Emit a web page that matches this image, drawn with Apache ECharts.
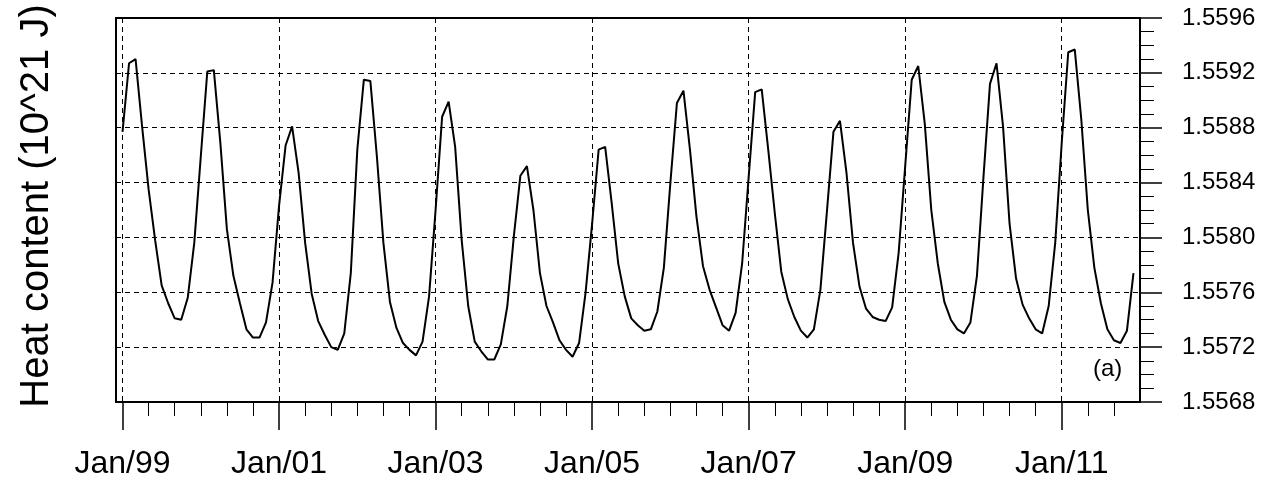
<!DOCTYPE html>
<html>
<head>
<meta charset="utf-8">
<script src="https://cdn.jsdelivr.net/npm/echarts@6/dist/echarts.min.js"></script>
<style>
  html, body { margin: 0; padding: 0; background: #fff; }
  #chart { width: 1276px; height: 482px; }
</style>
</head>
<body>
<div id="chart"></div>
<script>
// monthly heat content, Jan 1999 .. Dec 2011 (10^21 J)
const heat = [
  1.55877, 1.55927, 1.55930, 1.55881, 1.55835, 1.55798, 1.55765, 1.55752, 1.55741, 1.55740, 1.55756, 1.55796, // 1999
  1.55859, 1.55921, 1.55922, 1.55869, 1.55806, 1.55772, 1.55752, 1.55733, 1.55727, 1.55727, 1.55738, 1.55767, // 2000
  1.55823, 1.55867, 1.55881, 1.55847, 1.55796, 1.55759, 1.55739, 1.55729, 1.55720, 1.55718, 1.55730, 1.55774, // 2001
  1.55864, 1.55915, 1.55914, 1.55859, 1.55796, 1.55753, 1.55734, 1.55723, 1.55718, 1.55714, 1.55724, 1.55757, // 2002
  1.55820, 1.55888, 1.55899, 1.55866, 1.55798, 1.55750, 1.55724, 1.55717, 1.55711, 1.55711, 1.55722, 1.55750, // 2003
  1.55801, 1.55845, 1.55852, 1.55820, 1.55774, 1.55750, 1.55738, 1.55725, 1.55718, 1.55713, 1.55723, 1.55760, // 2004
  1.55810, 1.55864, 1.55866, 1.55825, 1.55781, 1.55757, 1.55741, 1.55736, 1.55732, 1.55733, 1.55746, 1.55778, // 2005
  1.55840, 1.55898, 1.55907, 1.55864, 1.55815, 1.55779, 1.55762, 1.55749, 1.55736, 1.55732, 1.55745, 1.55781, // 2006
  1.55844, 1.55906, 1.55908, 1.55864, 1.55818, 1.55775, 1.55755, 1.55742, 1.55732, 1.55727, 1.55733, 1.55762, // 2007
  1.55819, 1.55877, 1.55885, 1.55847, 1.55796, 1.55764, 1.55748, 1.55742, 1.55740, 1.55739, 1.55749, 1.55789, // 2008
  1.55852, 1.55915, 1.55925, 1.55883, 1.55820, 1.55781, 1.55753, 1.55740, 1.55733, 1.55730, 1.55738, 1.55772, // 2009
  1.55844, 1.55912, 1.55927, 1.55881, 1.55810, 1.55770, 1.55751, 1.55741, 1.55733, 1.55730, 1.55750, 1.55796, // 2010
  1.55869, 1.55935, 1.55937, 1.55886, 1.55820, 1.55778, 1.55752, 1.55733, 1.55725, 1.55723, 1.55732, 1.55774  // 2011
];

// x axis: months since Jan 1999
const majorMonths = [0, 24, 48, 72, 96, 120, 144];
const majorLabels = ['Jan/99', 'Jan/01', 'Jan/03', 'Jan/05', 'Jan/07', 'Jan/09', 'Jan/11'];
const minorMonths = [4, 8, 12, 16, 20, 28, 32, 36, 40, 44, 52, 56, 60, 64, 68, 76, 80, 84, 88, 92,
  100, 104, 108, 112, 116, 124, 128, 132, 136, 140, 148, 152];

const FONT = 'Liberation Sans, Arial, Helvetica, sans-serif';
const dash = { color: '#000', width: 1, type: [5, 4] };

const chart = echarts.init(document.getElementById('chart'), null, { renderer: 'canvas' });

chart.setOption({
  animation: false,
  backgroundColor: '#fff',
  grid: {
    left: 116, right: 136, top: 18, bottom: 80,
    show: true, borderColor: '#000', borderWidth: 2, backgroundColor: 'transparent'
  },
  xAxis: [
    {
      type: 'value', min: -1, max: 156, position: 'bottom',
      axisLine: { show: true, lineStyle: { color: '#000', width: 2 } },
      axisTick: { show: true, customValues: majorMonths, length: 28, lineStyle: { color: '#000', width: 1.5 } },
      axisLabel: {
        show: true, customValues: majorMonths, margin: 46,
        fontFamily: FONT, fontSize: 32, color: '#000',
        formatter: v => majorLabels[majorMonths.indexOf(v)] || ''
      },
      splitLine: { show: true, lineStyle: dash }
    },
    {
      type: 'value', min: -1, max: 156, position: 'bottom',
      axisLine: { show: false },
      axisTick: { show: true, customValues: minorMonths, length: 14, lineStyle: { color: '#000', width: 1 } },
      axisLabel: { show: false },
      splitLine: { show: false }
    }
  ],
  yAxis: {
    type: 'value', min: 1.5568, max: 1.5596, interval: 0.0004, position: 'right',
    axisLine: { show: true, onZero: false, lineStyle: { color: '#000', width: 2 } },
    axisTick: { show: true, inside: false, length: 22, lineStyle: { color: '#000', width: 1.5 } },
    minorTick: { show: true, splitNumber: 4, length: 14, lineStyle: { color: '#000', width: 1 } },
    axisLabel: {
      margin: 42, fontFamily: FONT, fontSize: 24, color: '#000',
      formatter: v => v.toFixed(4)
    },
    splitLine: { show: true, lineStyle: dash }
  },
  graphic: [
    {
      type: 'text', x: 37, y: 206, rotation: Math.PI / 2,
      style: { text: 'Heat content (10^21 J)', font: '40px ' + FONT, fill: '#000', align: 'center', verticalAlign: 'middle' }
    },
    { type: 'text', left: 1093, top: 357, style: { text: '(a)', font: '24px ' + FONT, fill: '#000' } }
  ],
  series: [
    {
      type: 'line',
      xAxisIndex: 0, yAxisIndex: 0,
      data: heat.map((v, i) => [i, v]),
      symbol: 'none',
      lineStyle: { color: '#000', width: 2 },
      z: 3
    }
  ]
});
</script>
</body>
</html>
